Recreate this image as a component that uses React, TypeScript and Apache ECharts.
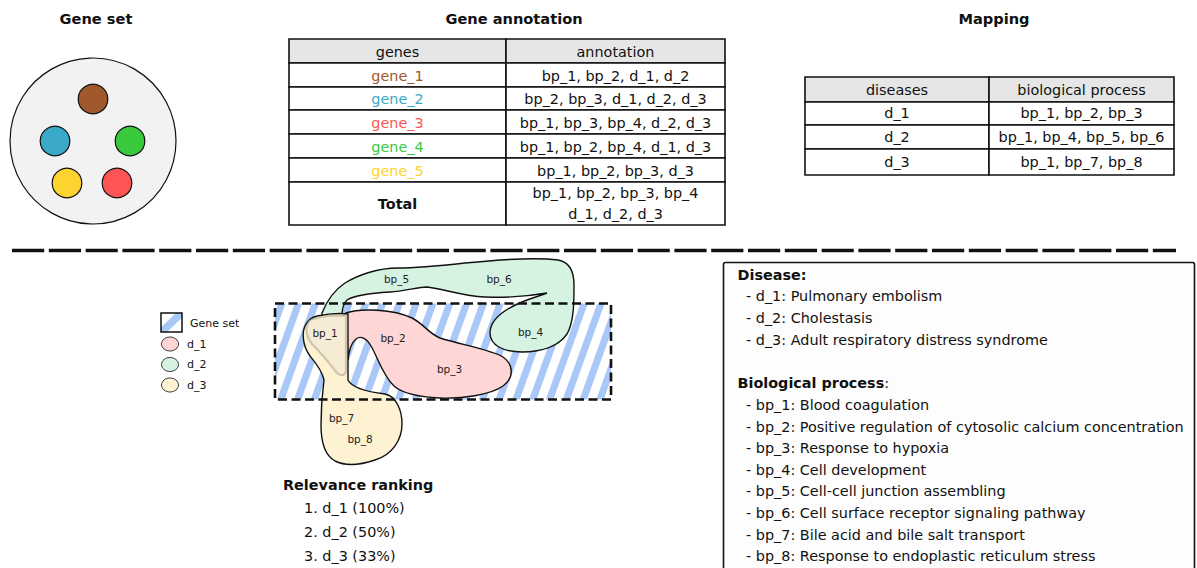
import React, { useEffect, useRef } from "react";
import * as echarts from "echarts";

// ---------- data ----------
const genes = ["gene_1", "gene_2", "gene_3", "gene_4", "gene_5"];
const geneColors = ["#a0582c", "#3aaac8", "#fd5555", "#38c93c", "#fdd42f"];
const geneAnnotations = [
  "bp_1, bp_2, d_1, d_2",
  "bp_2, bp_3, d_1, d_2, d_3",
  "bp_1, bp_3, bp_4, d_2, d_3",
  "bp_1, bp_2, bp_4, d_1, d_3",
  "bp_1, bp_2, bp_3, d_3",
];
const totalAnnotation = ["bp_1, bp_2, bp_3, bp_4", "d_1, d_2, d_3"];
const diseases = ["d_1", "d_2", "d_3"];
const diseaseProcesses = ["bp_1, bp_2, bp_3", "bp_1, bp_4, bp_5, bp_6", "bp_1, bp_7, bp_8"];
const diseaseNames = ["Pulmonary embolism", "Cholestasis", "Adult respiratory distress syndrome"];
const processes = ["bp_1", "bp_2", "bp_3", "bp_4", "bp_5", "bp_6", "bp_7", "bp_8"];
const processNames = [
  "Blood coagulation",
  "Positive regulation of cytosolic calcium concentration",
  "Response to hypoxia",
  "Cell development",
  "Cell-cell junction assembling",
  "Cell surface receptor signaling pathway",
  "Bile acid and bile salt transport",
  "Response to endoplastic reticulum stress",
];
const rankingDiseases = ["d_1", "d_2", "d_3"];
const rankingScores = [100, 50, 33];

// ---------- styles / layout ----------
const FF = "'DejaVu Sans', 'Liberation Sans', sans-serif";
const FS = 14.4;
const PINK = "#fed6d6";
const GREEN = "#d6f2e1";
const BEIGE = "#fdf2d2";
const HATCH = "#a9c8f7";

const blobPaths: Record<string, string> = {
  blobD2:
    "M322 313 C326 303 333 291 345 283 C358 275 378 268 398 268 C418 268 438 266 465 263 C495 260 535 257 558 260 C570 262 574 271 574 285 C574 302 574 322 567 334 C558 347 540 352 522 352 C503 352 490 345 490 333 C490 320 503 310 522 302 C532 298 542 295 547 293 C530 296 508 298 485 297 C462 296 440 288 427 287 C418 287 405 291 390 292 C372 293 355 295 347 300 C343 304 342 310 342 316 L322 316 Z",
  blobD1:
    "M346 313 C360 308 393 309 412 318 C424 324 428 333 440 338 C462 345 492 350 503 357 C514 365 514 378 503 386 C490 395 462 399 440 398 C420 397 403 394 394 386 C383 376 378 358 371 346 C367 339 361 335 356 339 C351 343 349 350 348 360 L346 313 Z",
  blobD3:
    "M317 316 C327 314 340 313 348 314 L348 380 C352 388 368 392 385 394 C396 396 402 410 402 424 C402 440 392 455 375 460 C360 465 345 466 335 461 C324 455 321 440 321 425 C321 410 322 395 324 380 C322 370 315 362 310 356 C304 348 301 335 305 326 C308 320 312 317 317 316 Z",
  blobBp1:
    "M310 320 C320 316 335 315 346 316 L346 372 C344 376 340 376 337 373 C330 364 320 352 312 344 C305 336 305 325 310 320 Z",
};

function clipPoly(poly: number[][], xmin: number, ymin: number, xmax: number, ymax: number) {
  const planes: [(p: number[]) => boolean, (a: number[], b: number[]) => number[]][] = [
    [(p) => p[0] >= xmin, (a, b) => { const t = (xmin - a[0]) / (b[0] - a[0]); return [xmin, a[1] + t * (b[1] - a[1])]; }],
    [(p) => p[0] <= xmax, (a, b) => { const t = (xmax - a[0]) / (b[0] - a[0]); return [xmax, a[1] + t * (b[1] - a[1])]; }],
    [(p) => p[1] >= ymin, (a, b) => { const t = (ymin - a[1]) / (b[1] - a[1]); return [a[0] + t * (b[0] - a[0]), ymin]; }],
    [(p) => p[1] <= ymax, (a, b) => { const t = (ymax - a[1]) / (b[1] - a[1]); return [a[0] + t * (b[0] - a[0]), ymax]; }],
  ];
  let out = poly;
  for (const [inside, inter] of planes) {
    const input = out;
    out = [];
    for (let i = 0; i < input.length; i++) {
      const cur = input[i];
      const prev = input[(i + input.length - 1) % input.length];
      const ci = inside(cur), pi = inside(prev);
      if (ci) {
        if (!pi) out.push(inter(prev, cur));
        out.push(cur);
      } else if (pi) {
        out.push(inter(prev, cur));
      }
    }
    if (!out.length) break;
  }
  return out;
}

function hatch(x0: number, y0: number, x1: number, y1: number, period: number, w: number, slope: number, phase: number) {
  const shift = (y1 - y0) * slope;
  const els: any[] = [];
  for (let b = x0 - shift - period + phase; b < x1 + period; b += period) {
    const poly = [[b, y1], [b + w, y1], [b + w + shift, y0], [b + shift, y0]];
    const c = clipPoly(poly, x0, y0, x1, y1);
    if (c.length >= 3) {
      els.push({ type: "polygon", shape: { points: c }, style: { fill: HATCH, stroke: null } });
    }
  }
  return els;
}

function txt(text: string, x: number, y: number, o: any = {}) {
  return {
    type: "text",
    x,
    y,
    style: {
      text,
      fill: o.fill || "#111",
      fontSize: o.size || FS,
      fontFamily: FF,
      fontWeight: o.weight || "normal",
      align: o.align || "center",
      verticalAlign: "middle",
      textAlign: o.align || "center",
      textVerticalAlign: "middle",
      rich: o.rich,
    },
  };
}

function cell(x: number, y: number, w: number, h: number, fill: string) {
  return {
    type: "rect",
    shape: { x, y, width: w, height: h },
    style: { fill, stroke: "#111", lineWidth: 1.6 },
  };
}

function buildElements() {
  const els: any[] = [];

  // Titles
  els.push(txt("Gene set", 96, 18, { weight: "bold", size: 14.6 }));
  els.push(txt("Gene annotation", 514, 18, { weight: "bold", size: 14.6 }));
  els.push(txt("Mapping", 994, 18, { weight: "bold", size: 14.6 }));

  // Gene set circle
  els.push({ type: "circle", shape: { cx: 93, cy: 141, r: 83 }, style: { fill: "#f2f2f2", stroke: "#111", lineWidth: 1.2 } });
  const genePos = [[93, 99], [55, 141], [117, 183], [130, 141], [67, 183]];
  genes.forEach((g, i) => {
    els.push({ type: "circle", shape: { cx: genePos[i][0], cy: genePos[i][1], r: 14.8 }, style: { fill: geneColors[i], stroke: "#111", lineWidth: 1.2 } });
  });

  // Gene annotation table
  const tc = [289, 506, 725];
  const tr = [39, 63, 87, 110, 134, 158, 182, 225];
  els.push(cell(tc[0], tr[0], tc[1] - tc[0], tr[1] - tr[0], "#e6e6e6"));
  els.push(cell(tc[1], tr[0], tc[2] - tc[1], tr[1] - tr[0], "#e6e6e6"));
  els.push(txt("genes", (tc[0] + tc[1]) / 2, (tr[0] + tr[1]) / 2 + 0.5));
  els.push(txt("annotation", (tc[1] + tc[2]) / 2, (tr[0] + tr[1]) / 2 + 0.5));
  genes.forEach((g, i) => {
    const y0 = tr[i + 1], y1 = tr[i + 2];
    els.push(cell(tc[0], y0, tc[1] - tc[0], y1 - y0, "#fff"));
    els.push(cell(tc[1], y0, tc[2] - tc[1], y1 - y0, "#fff"));
    els.push(txt(g, (tc[0] + tc[1]) / 2, (y0 + y1) / 2 + 0.5, { fill: geneColors[i] }));
    els.push(txt(geneAnnotations[i], (tc[1] + tc[2]) / 2, (y0 + y1) / 2 + 0.5));
  });
  els.push(cell(tc[0], tr[6], tc[1] - tc[0], tr[7] - tr[6], "#fff"));
  els.push(cell(tc[1], tr[6], tc[2] - tc[1], tr[7] - tr[6], "#fff"));
  els.push(txt("Total", (tc[0] + tc[1]) / 2, (tr[6] + tr[7]) / 2, { weight: "bold" }));
  totalAnnotation.forEach((t, i) => {
    els.push(txt(t, (tc[1] + tc[2]) / 2, 192.5 + i * 21));
  });

  // Mapping table
  const mc = [805, 989, 1174];
  const mr = [77, 102, 125, 149, 175];
  els.push(cell(mc[0], mr[0], mc[1] - mc[0], mr[1] - mr[0], "#e6e6e6"));
  els.push(cell(mc[1], mr[0], mc[2] - mc[1], mr[1] - mr[0], "#e6e6e6"));
  els.push(txt("diseases", (mc[0] + mc[1]) / 2, (mr[0] + mr[1]) / 2 + 0.5));
  els.push(txt("biological process", (mc[1] + mc[2]) / 2, (mr[0] + mr[1]) / 2 + 0.5));
  diseases.forEach((d, i) => {
    const y0 = mr[i + 1], y1 = mr[i + 2];
    els.push(cell(mc[0], y0, mc[1] - mc[0], y1 - y0, "#fff"));
    els.push(cell(mc[1], y0, mc[2] - mc[1], y1 - y0, "#fff"));
    els.push(txt(d, (mc[0] + mc[1]) / 2, (y0 + y1) / 2 - 0.5));
    els.push(txt(diseaseProcesses[i], (mc[1] + mc[2]) / 2, (y0 + y1) / 2 - 0.5));
  });

  // Separator
  els.push({ type: "line", shape: { x1: 12, y1: 250.5, x2: 1176, y2: 250.5 }, style: { stroke: "#111", lineWidth: 3.6, lineDash: [32.2, 4.6] } });

  // Legend
  els.push({ type: "rect", shape: { x: 161, y: 313, width: 21, height: 19 }, style: { fill: "#fff", stroke: null } });
  const lb = clipPoly([[156, 332], [167, 332], [187, 313], [176, 313]], 161, 313, 182, 332);
  els.push({ type: "polygon", shape: { points: lb }, style: { fill: HATCH, stroke: null } });
  els.push({ type: "rect", shape: { x: 161, y: 313, width: 21, height: 19 }, style: { fill: null, stroke: "#111", lineWidth: 1.5 } });
  els.push(txt("Gene set", 190, 323.5, { size: 11, align: "left" }));
  const legendFills = [PINK, GREEN, BEIGE];
  diseases.forEach((d, i) => {
    const cy = 344 + i * 20.5;
    els.push({ type: "ellipse", shape: { cx: 170, cy, rx: 8.5, ry: 7 }, style: { fill: legendFills[i], stroke: "#222", lineWidth: 0.9 } });
    els.push(txt(d, 187, cy, { size: 11, align: "left" }));
  });

  // Gene set rectangle with hatching
  const rx0 = 275, ry0 = 303.5, rx1 = 611, ry1 = 399.5;
  els.push({ type: "rect", shape: { x: rx0, y: ry0, width: rx1 - rx0, height: ry1 - ry0 }, style: { fill: "#fff", stroke: null } });
  els.push(...hatch(rx0, ry0, rx1, ry1, 16.8, 7.5, 0.36, 3));

  // Blobs
  els.push({ type: "blobD2", style: { fill: GREEN, stroke: "#111", lineWidth: 1.4 } });
  els.push({ type: "blobD1", style: { fill: PINK, stroke: "#111", lineWidth: 1.4 } });
  els.push({ type: "blobD3", style: { fill: BEIGE, stroke: "#111", lineWidth: 1.4 } });
  els.push({ type: "blobBp1", style: { fill: "#f6ecd5", stroke: "rgba(130,120,100,0.35)", lineWidth: 2.2 } });

  // Dashed border on top
  els.push({ type: "rect", shape: { x: rx0, y: ry0, width: rx1 - rx0, height: ry1 - ry0 }, style: { fill: null, stroke: "#111", lineWidth: 2.6, lineDash: [9, 4.5] } });

  // Blob labels
  const labelPos = [[325, 333], [393, 337.5], [449.5, 368.5], [530.5, 332], [396.5, 278.5], [499, 278.5], [341.5, 418], [360, 438.5]];
  processes.forEach((p, i) => {
    els.push(txt(p, labelPos[i][0], labelPos[i][1], { size: 10.5, fill: "#222" }));
  });

  // Relevance ranking
  els.push(txt("Relevance ranking", 283, 485, { weight: "bold", align: "left" }));
  rankingDiseases.forEach((d, i) => {
    els.push(txt(`${i + 1}. ${d} (${rankingScores[i]}%)`, 304, 508 + i * 23.8, { align: "left" }));
  });

  // Info box
  els.push({ type: "rect", shape: { x: 723.5, y: 262.5, width: 471, height: 330, r: 2 }, style: { fill: "#fdfdfd", stroke: "#111", lineWidth: 1.6 } });
  els.push(txt("Disease:", 737.5, 275, { weight: "bold", align: "left" }));
  diseases.forEach((d, i) => {
    els.push(txt(`- ${d}: ${diseaseNames[i]}`, 746, 296 + i * 22, { align: "left" }));
  });
  els.push(
    txt("{b|Biological process}{n|:}", 737.5, 383, {
      align: "left",
      rich: {
        b: { fontWeight: "bold", fontSize: FS, fontFamily: FF, fill: "#111" },
        n: { fontWeight: "normal", fontSize: FS, fontFamily: FF, fill: "#111" },
      },
    })
  );
  processes.forEach((p, i) => {
    els.push(txt(`- ${p}: ${processNames[i]}`, 746, 405 + i * 21.6, { align: "left" }));
  });

  return els;
}

export default function App() {
  const ref = useRef<HTMLDivElement>(null);
  useEffect(() => {
    Object.keys(blobPaths).forEach((k) => {
      echarts.graphic.registerShape(k, echarts.graphic.extendPath(blobPaths[k], {}) as any);
    });
    const chart = echarts.init(ref.current!, null, { renderer: "svg", width: 1197, height: 568 });
    chart.setOption({
      animation: false,
      backgroundColor: "#ffffff",
      graphic: buildElements(),
    });
    return () => chart.dispose();
  }, []);
  return <div ref={ref} style={{ position: "fixed", left: 0, top: 0, width: 1197, height: 568 }} />;
}
